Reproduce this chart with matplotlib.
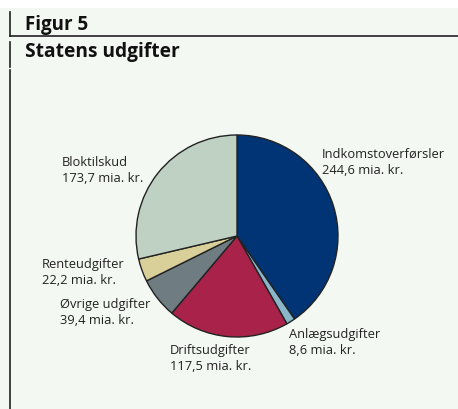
import matplotlib
matplotlib.use("Agg")
import matplotlib.pyplot as plt
from matplotlib.lines import Line2D
from matplotlib.patches import Rectangle

W, H = 458, 409
categories = ["Indkomstoverførsler", "Anlægsudgifter", "Driftsudgifter",
              "Øvrige udgifter", "Renteudgifter", "Bloktilskud"]
values = [244.6, 8.6, 117.5, 39.4, 22.2, 173.7]
value_labels = ["244,6 mia. kr.", "8,6 mia. kr.", "117,5 mia. kr.",
                "39,4 mia. kr.", "22,2 mia. kr.", "173,7 mia. kr."]
colors = ["#003474", "#8bb5c9", "#a8224a", "#6f7c82", "#d9cf98", "#bfd1c3"]

# label anchor (left x, first-line baseline y) in pixels
label_pos = [(322, 158), (289, 338), (170, 354), (60, 308), (42, 268), (62, 166)]

bg = "#f3f8f2"
fig = plt.figure(figsize=(W / 100, H / 100), dpi=100, facecolor=bg)
plt.rcParams['font.family'] = ['Open Sans', 'DejaVu Sans']

def fx(x):
    return x / W

def fy(y):
    return 1 - y / H

fig.add_artist(Rectangle((0, fy(8)), 1, 8 / H, facecolor="white", edgecolor="none", transform=fig.transFigure))

# frame lines
lc = "#222222"
fig.add_artist(Line2D([fx(10), fx(10)], [fy(12), fy(36)], color=lc, lw=1.2, transform=fig.transFigure))
fig.add_artist(Line2D([fx(10), fx(10)], [fy(42), fy(67)], color=lc, lw=1.2, transform=fig.transFigure))
fig.add_artist(Line2D([fx(10), fx(10)], [fy(70), fy(409)], color=lc, lw=1.2, transform=fig.transFigure))
fig.add_artist(Line2D([fx(10), fx(458)], [fy(36), fy(36)], color=lc, lw=1.2, transform=fig.transFigure))

fig.text(fx(25), fy(30), "Figur 5", fontsize=13.5, fontweight="bold", color="#111111",
         va="baseline", ha="left")
fig.text(fx(25), fy(57), "Statens udgifter", fontsize=13.8, fontweight="bold", color="#111111",
         va="baseline", ha="left")

# pie axes
cx, cy, r = 237, 236, 101
ax = fig.add_axes([fx(cx - r), fy(cy + r), 2 * r / W, 2 * r / H])
ax.set_facecolor("none")
ax.pie(values, colors=colors, startangle=90, counterclock=False,
       wedgeprops=dict(edgecolor="#222222", linewidth=1.0))
ax.set_xlim(-1, 1)
ax.set_ylim(-1, 1)
ax.axis("off")

for cat, vl, (x, y) in zip(categories, value_labels, label_pos):
    fig.text(fx(x), fy(y), cat, fontsize=9.3, color="#222222", va="baseline", ha="left")
    fig.text(fx(x), fy(y + 16), vl, fontsize=9.3, color="#222222", va="baseline", ha="left")

fig.savefig("out.png", dpi=100, facecolor=bg)
